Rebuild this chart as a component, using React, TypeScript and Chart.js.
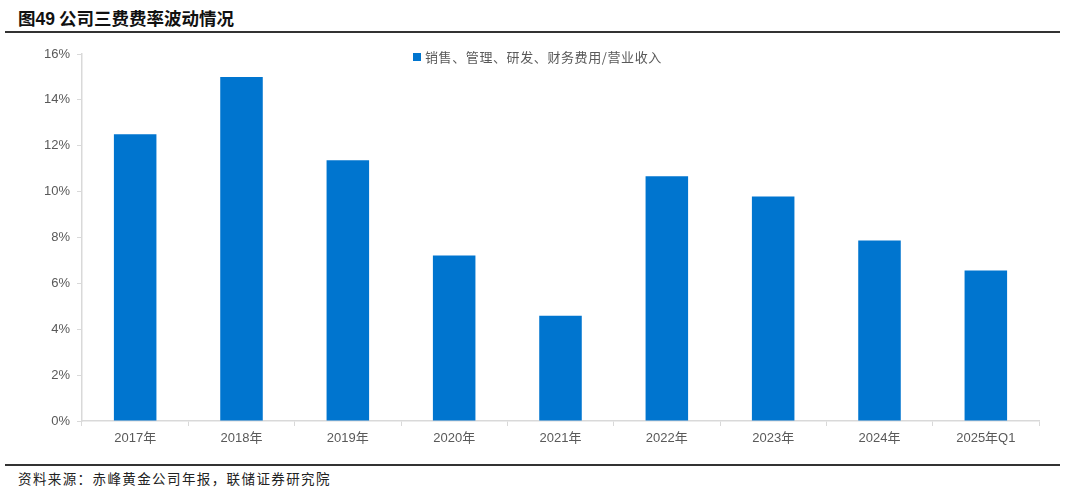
import React, { useEffect, useRef } from 'react';
import { Chart, registerables } from 'chart.js';

Chart.register(...registerables);

const categories = ['2017年', '2018年', '2019年', '2020年', '2021年', '2022年', '2023年', '2024年', '2025年Q1'];
const expenseRatio = [12.5, 15.0, 11.37, 7.21, 4.59, 10.67, 9.79, 7.87, 6.56];
const seriesLabel = '销售、管理、研发、财务费用/营业收入';
const yTicks = [0, 2, 4, 6, 8, 10, 12, 14, 16];

const BAR = '#0075cf';
const AXIS = '#d9d9d9';
const LABEL = '#595959';
const CJK = '"Noto Sans CJK SC", "Liberation Sans", sans-serif';
const LATIN = '"Liberation Sans", "Noto Sans CJK SC", sans-serif';

// legend drawn over the plot area, like the original
const overlayLegend = {
  id: 'overlayLegend',
  afterDraw(chart: any) {
    const ctx = chart.ctx;
    const ds = chart.data.datasets[0];
    ctx.save();
    ctx.fillStyle = ds.backgroundColor;
    ctx.fillRect(413, 16, 8, 8);
    ctx.font = `13px ${CJK}`;
    ctx.letterSpacing = '0.6px';
    ctx.fillStyle = LABEL;
    ctx.textBaseline = 'middle';
    ctx.textAlign = 'left';
    ctx.fillText(ds.label, 425, 20);
    ctx.restore();
  },
};

export default function App() {
  const canvasRef = useRef<HTMLCanvasElement>(null);

  useEffect(() => {
    document.body.style.margin = '0';
    let chart: Chart | null = null;
    if (canvasRef.current) {
      chart = new Chart(canvasRef.current, {
        type: 'bar',
        data: {
          labels: categories,
          datasets: [{
            label: seriesLabel,
            data: expenseRatio,
            backgroundColor: BAR,
            barPercentage: 0.4,
            categoryPercentage: 1,
          }],
        },
        options: {
          animation: false,
          responsive: true,
          maintainAspectRatio: false,
          layout: { padding: { top: 17, right: 27, left: 0, bottom: 0 } },
          plugins: { legend: { display: false }, tooltip: { enabled: false } },
          scales: {
            x: {
              grid: { display: true, drawOnChartArea: false, drawTicks: true, tickLength: 5, color: AXIS, offset: true },
              border: { color: AXIS, width: 1.5 },
              ticks: { color: LABEL, font: { family: LATIN, size: 13 }, padding: 5, maxRotation: 0 },
              afterFit: (s: any) => { s.height = 30; },
            },
            y: {
              min: 0,
              max: 16,
              afterBuildTicks: (s: any) => { s.ticks = yTicks.map((v) => ({ value: v })); },
              grid: { display: true, drawOnChartArea: false, drawTicks: true, tickLength: 5, color: AXIS },
              border: { color: AXIS, width: 1.5 },
              ticks: { color: LABEL, font: { family: LATIN, size: 13 }, padding: 7, callback: (v: any) => v + '%' },
              afterFit: (s: any) => { s.width = 82; },
            },
          },
        },
        plugins: [overlayLegend],
      });
    }
    return () => { if (chart) chart.destroy(); };
  }, []);

  return (
    <div style={{ position: 'relative', width: 1066, height: 490, background: '#fff', overflow: 'hidden' }}>
      <div style={{ position: 'absolute', left: 18, top: 5, fontFamily: CJK, fontWeight: 700, fontSize: 17.5, color: '#111', whiteSpace: 'nowrap' }}>
        图<span style={{ fontFamily: LATIN }}>49</span> 公司三费费率波动情况
      </div>
      <div style={{ position: 'absolute', left: 5, top: 31, width: 1055, height: 1.5, background: '#333' }} />
      <div style={{ position: 'absolute', left: 0, top: 37, width: 1066, height: 414 }}>
        <canvas ref={canvasRef}></canvas>
      </div>
      <div style={{ position: 'absolute', left: 5, top: 464, width: 1055, height: 1.5, background: '#333' }} />
      <div style={{ position: 'absolute', left: 18, top: 468, fontFamily: CJK, fontSize: 13.5, letterSpacing: 1.4, color: '#222', whiteSpace: 'nowrap' }}>
        资料来源：赤峰黄金公司年报，联储证券研究院
      </div>
    </div>
  );
}
